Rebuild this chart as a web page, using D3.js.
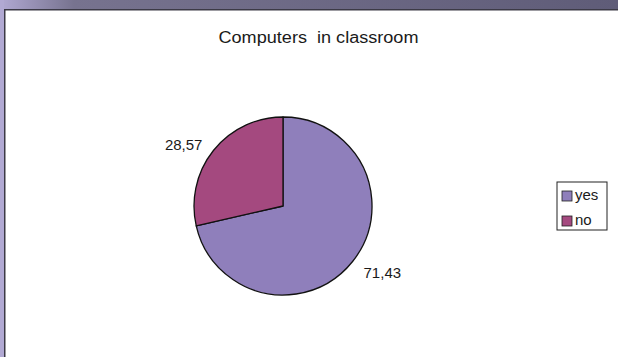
<!DOCTYPE html>
<html>
<head>
<meta charset="utf-8">
<script src="https://cdn.jsdelivr.net/npm/d3@7"></script>
<style>
  html, body { margin: 0; padding: 0; background: #fff; }
  svg { display: block; }
  text { font-family: "Liberation Sans", Arial, sans-serif; fill: #1a1a1a; }
</style>
</head>
<body>
<svg id="chart" width="618" height="357"></svg>
<script>
// Survey answers and their shares (percent)
const categories = ["yes", "no"];
const values = [71.43, 28.57];
const labels = ["71,43", "28,57"];
const colors = ["#8f7fbb", "#a4497f"];
const title = "Computers  in classroom";

const W = 618, H = 357;
const svg = d3.select("#chart");

// Window frame: gradient strip on top, lavender strip on the left
const defs = svg.append("defs");
const grad = defs.append("linearGradient").attr("id", "topband")
  .attr("x1", "0%").attr("x2", "100%").attr("y1", "0%").attr("y2", "0%");
grad.append("stop").attr("offset", "0%").attr("stop-color", "#b1a9d3");
grad.append("stop").attr("offset", "12%").attr("stop-color", "#77738f");
grad.append("stop").attr("offset", "100%").attr("stop-color", "#5f5c78");

svg.append("rect").attr("x", 0).attr("y", 0).attr("width", W).attr("height", 10)
  .attr("fill", "url(#topband)");
svg.append("rect").attr("x", 0).attr("y", 0).attr("width", 4).attr("height", H)
  .attr("fill", "#b1a9d3");
svg.append("rect").attr("x", 4).attr("y", 9).attr("width", W - 4).attr("height", 1.5)
  .attr("fill", "#3c3a46");
svg.append("rect").attr("x", 4).attr("y", 9).attr("width", 1.5).attr("height", H - 9)
  .attr("fill", "#3c3a46");

// Title
svg.append("text")
  .attr("x", 318.5).attr("y", 43)
  .attr("text-anchor", "middle")
  .attr("font-size", 16)
  .attr("textLength", 200)
  .attr("lengthAdjust", "spacingAndGlyphs")
  .style("white-space", "pre")
  .text(title);

// Pie
const cx = 283, cy = 206, r = 89;
const pie = d3.pie().sort(null).value(d => d.value);
const data = categories.map((c, i) => ({ cat: c, value: values[i], label: labels[i], color: colors[i] }));
const arcs = pie(data);
const arc = d3.arc().innerRadius(0).outerRadius(r);

const g = svg.append("g").attr("transform", `translate(${cx},${cy})`);
g.selectAll("path").data(arcs).join("path")
  .attr("d", arc)
  .attr("fill", d => d.data.color)
  .attr("stroke", "#111")
  .attr("stroke-width", 1.3)
  .attr("stroke-linejoin", "round");

// Value labels just outside each slice, anchored away from the pie
const labelArc = d3.arc().innerRadius(r + 14).outerRadius(r + 14);
g.selectAll("text.val").data(arcs).join("text")
  .attr("class", "val")
  .attr("font-size", 15)
  .attr("dominant-baseline", "middle")
  .attr("text-anchor", d => labelArc.centroid(d)[0] < 0 ? "end" : "start")
  .attr("transform", d => {
    const [x, y] = labelArc.centroid(d);
    return `translate(${x},${y + 4})`;
  })
  .text(d => d.data.label);

// Legend
const lg = svg.append("g").attr("transform", "translate(557,182)");
lg.append("rect").attr("x", 0).attr("y", 0).attr("width", 50).attr("height", 48)
  .attr("fill", "#fff").attr("stroke", "#222").attr("stroke-width", 1);
const item = lg.selectAll("g.item").data(data).join("g")
  .attr("class", "item")
  .attr("transform", (d, i) => `translate(5,${14 + i * 25})`);
item.append("rect").attr("x", 0).attr("y", -5).attr("width", 10).attr("height", 10)
  .attr("fill", d => d.color).attr("stroke", "#222").attr("stroke-width", 0.8);
item.append("text").attr("x", 13).attr("y", 0)
  .attr("dominant-baseline", "middle")
  .attr("font-size", 15)
  .text(d => d.cat);
</script>
</body>
</html>
